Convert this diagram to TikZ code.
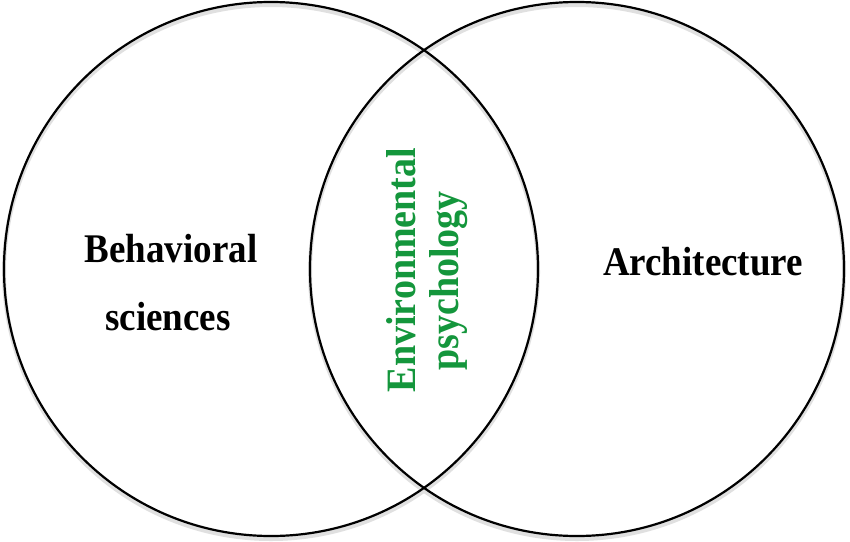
\documentclass[tikz,border=0pt]{standalone}
\usepackage{fontspec}
\setmainfont{Liberation Serif}
\definecolor{envgreen}{RGB}{20,150,60}
\begin{document}
\begin{tikzpicture}[x=1pt,y=-1pt,
  ring/.style={draw=black,line width=2.2pt},
  ringshadow/.style={draw=black!12,line width=4pt},
  blacklabel/.style={font=\fontsize{37}{40}\selectfont\bfseries,text=black,anchor=base,inner sep=0pt,yscale=1.1},
  greenlabel/.style={font=\fontsize{38}{40}\selectfont\bfseries,text=envgreen,anchor=base,inner sep=0pt,rotate=90,yscale=1.1}]
\useasboundingbox[fill=white] (0,0) rectangle (850,541);
% soft shadows
\draw[ringshadow] (271,272) circle[radius=267];
\draw[ringshadow] (577,272) circle[radius=267];
% circles
\node[ring,circle,minimum size=534pt,inner sep=0pt] (left) at (271,269) {};
\node[ring,circle,minimum size=534pt,inner sep=0pt] (right) at (577,269) {};
% labels
\node[blacklabel] (beh) at (171,262) {Behavioral};
\node[blacklabel] (sci) at (168,330) {sciences};
\node[blacklabel] (arch) at (703,275) {Architecture};
\node[greenlabel] (env) at (415,270) {Environmental};
\node[greenlabel] (psy) at (458,281) {psychology};
\end{tikzpicture}
\end{document}
